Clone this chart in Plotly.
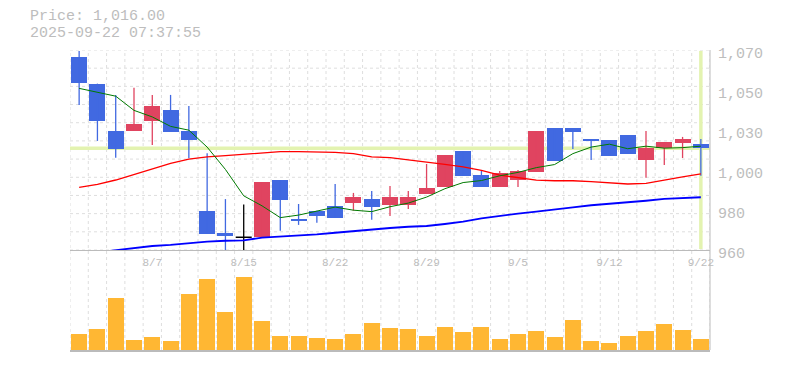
import plotly.graph_objects as go

# ---------------- data ----------------
dates = ['8/1', '8/4', '8/5', '8/6', '8/7', '8/8', '8/12', '8/13', '8/14', '8/15',
         '8/18', '8/19', '8/20', '8/21', '8/22', '8/25', '8/26', '8/27', '8/28', '8/29',
         '9/1', '9/2', '9/3', '9/4', '9/5', '9/8', '9/9', '9/10', '9/11', '9/12',
         '9/16', '9/17', '9/18', '9/19', '9/22']

open_ = [1066.2, 1051.3, 1025.5, 1025.5, 1031.0, 1037.0, 1025.5, 981.5, 969.5, 967.0,
         967.0, 998.5, 977.2, 981.6, 984.2, 985.9, 988.1, 984.8, 984.8, 990.8,
         994.7, 1014.5, 1001.3, 994.7, 998.5, 1002.9, 1027.1, 1027.1, 1021.0, 1020.5,
         1023.3, 1009.5, 1016.1, 1018.9, 1018.3]
high = [1069.5, 1051.5, 1045.3, 1049.3, 1045.3, 1045.3, 1039.2, 1013.2, 988.0, 985.0,
        997.4, 998.5, 985.3, 981.6, 996.3, 991.4, 992.5, 995.2, 992.5, 1007.3,
        1012.3, 1014.5, 1003.5, 1003.5, 1004.0, 1025.5, 1027.1, 1027.1, 1021.0, 1020.5,
        1023.3, 1025.5, 1019.4, 1022.2, 1021.0]
low = [1039.8, 1020.0, 1010.8, 1025.5, 1017.8, 1024.9, 1010.4, 969.0, 959.0, 959.0,
       966.8, 970.6, 973.8, 975.0, 977.8, 981.6, 976.7, 978.7, 982.5, 990.8,
       994.7, 1000.7, 994.7, 994.7, 994.7, 1002.9, 1009.0, 1015.5, 1009.5, 1011.7,
       1013.0, 999.8, 1006.8, 1010.6, 1000.9]
close = [1052.0, 1031.0, 1015.6, 1029.3, 1039.2, 1025.0, 1020.5, 969.0, 967.7, 967.0,
         997.4, 987.7, 976.0, 978.9, 977.8, 989.2, 983.7, 989.2, 989.2, 994.1,
         1012.3, 1000.7, 994.7, 1002.4, 1003.5, 1025.5, 1009.0, 1024.9, 1020.0, 1011.7,
         1013.0, 1016.1, 1019.4, 1021.1, 1016.0]

ma_short = [1048.9, 1046.8, 1044.6, 1036.8, 1033.2, 1028.0, 1025.9, 1016.6, 1004.3, 989.8,
            984.3, 977.8, 979.2, 981.4, 983.6, 981.9, 981.1, 983.8, 985.8, 989.1,
            993.7, 997.1, 998.2, 1000.8, 1002.7, 1005.3, 1007.0, 1013.0, 1016.6, 1018.2,
            1015.7, 1017.1, 1016.0, 1016.3, 1017.1]
ma_mid = [994.5, 996.1, 998.5, 1001.6, 1004.9, 1007.6, 1010.0, 1011.2, 1011.9, 1012.6,
          1013.7, 1014.1, 1014.1, 1014.1, 1013.7, 1013.0, 1011.2, 1010.8, 1009.7, 1008.2,
          1007.1, 1005.7, 1003.8, 1001.2, 999.6, 998.4, 998.1, 998.1, 997.6, 996.8,
          996.3, 996.6, 998.6, 1000.2, 1001.9]
ma_long = [None, 958.7, 960.0, 961.3, 962.2, 962.8, 963.9, 964.6, 965.1, 965.3,
           966.8, 967.3, 967.9, 968.6, 969.5, 970.5, 971.4, 972.1, 972.8, 973.2,
           974.3, 975.6, 977.4, 978.9, 980.0, 981.1, 982.5, 983.5, 984.6, 985.3,
           986.2, 987.1, 988.1, 988.4, 989.0]

volume = [16000, 21000, 52000, 10000, 13000, 9000, 56000, 71000, 38000, 73000,
          29000, 14000, 14000, 12000, 11000, 16000, 27000, 22000, 21000, 14000,
          23000, 18000, 23000, 11000, 16000, 19000, 13000, 30000, 9000, 7000,
          14000, 19000, 26000, 20000, 11000]

tick_labels = ['8/7', '8/15', '8/22', '8/29', '9/5', '9/12', '9/22']
price_tick_values = [1070, 1048, 1026, 1004, 982, 960]
price_tick_text = ['1,070', '1,050', '1,030', '1,000', '980', '960']

last_price = 1016.0
title_line1 = 'Price: 1,016.00'
title_line2 = '2025-09-22 07:37:55'

# ---------------- style ----------------
FONT = 'Liberation Mono'
TXT = '#bdbdbd'
GRID = '#dedede'
AXIS = '#bbbbbb'
UP = '#e04460'
DOWN = '#4169e1'
DOJI = '#000000'
VOL = '#ffb733'
HILITE = '#e3f3b0'
BW = 0.875

# the page body has an 8px margin on every side: size the figure so the page is exactly 785x370
W, H = 769, 354
ML, MR, MT, MB = 62, 67, 42, 12
PW, PH = W - ML - MR, H - MT - MB   # 640 x 300

idx = list(range(len(dates)))
n = len(dates)

def colour(o, c):
    if c > o:
        return UP
    if c < o:
        return DOWN
    return DOJI

cols = [colour(o, c) for o, c in zip(open_, close)]

fig = go.Figure()

# volume
fig.add_trace(go.Bar(x=idx, y=volume, width=BW, marker=dict(color=VOL, line=dict(width=0)),
                     xaxis='x2', yaxis='y2', hoverinfo='skip'))

# wicks
for col in (DOWN, UP, DOJI):
    wx, wy = [], []
    for i in idx:
        if cols[i] == col:
            wx += [i, i, None]
            wy += [low[i], high[i], None]
    fig.add_trace(go.Scatter(x=wx, y=wy, mode='lines', line=dict(color=col, width=1.3),
                             hoverinfo='skip', xaxis='x', yaxis='y'))

# bodies
fig.add_trace(go.Bar(x=idx, y=[abs(c - o) for o, c in zip(open_, close)],
                     base=[min(o, c) for o, c in zip(open_, close)], width=BW,
                     marker=dict(color=cols, line=dict(width=0)), xaxis='x', yaxis='y'))
# doji body
dx, dy = [], []
for i in idx:
    if cols[i] == DOJI:
        dx += [i - BW / 2, i + BW / 2, None]
        dy += [close[i], close[i], None]
fig.add_trace(go.Scatter(x=dx, y=dy, mode='lines', line=dict(color=DOJI, width=1.5),
                         hoverinfo='skip', xaxis='x', yaxis='y'))

# moving averages
fig.add_trace(go.Scatter(x=idx, y=ma_mid, mode='lines', line=dict(color='#ff0000', width=1.3),
                         xaxis='x', yaxis='y'))
fig.add_trace(go.Scatter(x=idx, y=ma_long, mode='lines', line=dict(color='#0000ff', width=1.8),
                         xaxis='x', yaxis='y'))
fig.add_trace(go.Scatter(x=idx, y=ma_short, mode='lines', line=dict(color='#007a00', width=1),
                         xaxis='x', yaxis='y'))

shapes = []
# horizontal grid (price panel)
v = 960
while v <= 1070:
    shapes.append(dict(type='line', xref='paper', x0=0, x1=1, yref='y', y0=v, y1=v,
                       line=dict(color=GRID, width=1, dash='3px,3px'), layer='below'))
    v += 10
# vertical grid (whole height)
for k in range(n + 1):
    xv = k - 0.5
    shapes.append(dict(type='line', xref='x', x0=xv, x1=xv, yref='paper', y0=0, y1=1,
                       line=dict(color=GRID, width=1, dash='3px,3px'), layer='below'))
# current price highlight
shapes.append(dict(type='line', xref='paper', x0=0, x1=1, yref='y', y0=last_price, y1=last_price,
                   line=dict(color=HILITE, width=3.5), layer='below'))
shapes.append(dict(type='line', xref='x', x0=n - 1, x1=n - 1, yref='y', y0=960.5, y1=1069.5,
                   line=dict(color=HILITE, width=3.5), layer='below'))
# right border through the gap
shapes.append(dict(type='line', xref='paper', x0=1, x1=1, yref='paper', y0=0, y1=1,
                   line=dict(color=AXIS, width=1), layer='above'))

def px_x(fig_x):
    return (fig_x - ML) / PW

def px_y(fig_y):
    return (H - MB - fig_y) / PH

fig.update_layout(
    width=W, height=H, autosize=False,
    margin=dict(l=ML, r=MR, t=MT, b=MB, autoexpand=False),
    paper_bgcolor='white', plot_bgcolor='rgba(0,0,0,0)',
    showlegend=False, barmode='overlay', bargap=0,
    font=dict(family=FONT, color=TXT),
    shapes=shapes,
    xaxis=dict(domain=[0, 1], range=[-0.5, n - 0.5], anchor='y', automargin=False,
               tickmode='array', tickvals=[dates.index(t) for t in tick_labels], ticktext=tick_labels,
               showgrid=False, zeroline=False, showline=True, linecolor=AXIS, linewidth=1,
               ticks='', ticklabelstandoff=2, tickfont=dict(family=FONT, size=11, color=TXT)),
    yaxis=dict(domain=[1 / 3, 1], range=[960, 1070], anchor='x', side='right', automargin=False,
               tickmode='array', tickvals=price_tick_values, ticktext=price_tick_text,
               showgrid=False, zeroline=False, showline=False,
               ticks='', ticklabelshift=3, ticklabelstandoff=7,
               tickfont=dict(family=FONT, size=15, color=TXT)),
    xaxis2=dict(domain=[0, 1], range=[-0.5, n - 0.5], anchor='y2', showticklabels=False, automargin=False,
                showgrid=False, zeroline=False, showline=True, linecolor=AXIS, linewidth=2, ticks=''),
    yaxis2=dict(domain=[0, 80 / 300], range=[0, 80000], anchor='x2', side='right', automargin=False,
                showticklabels=False, showgrid=False, zeroline=False, showline=False, ticks=''),
    annotations=[
        dict(text=title_line1, xref='paper', yref='paper', x=px_x(20), y=px_y(8.5),
             xanchor='left', yanchor='middle', showarrow=False,
             font=dict(family=FONT, size=15, color=TXT)),
        dict(text=title_line2, xref='paper', yref='paper', x=px_x(20), y=px_y(25.5),
             xanchor='left', yanchor='middle', showarrow=False,
             font=dict(family=FONT, size=15, color=TXT)),
    ],
)

fig.write_html('out.html')
